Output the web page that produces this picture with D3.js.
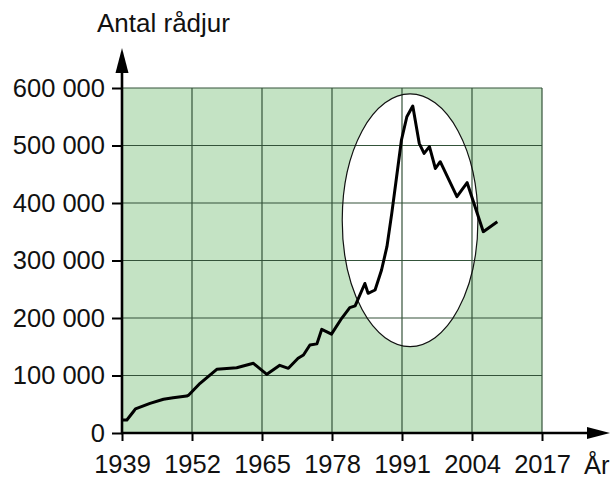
<!DOCTYPE html>
<html>
<head>
<meta charset="utf-8">
<script src="https://cdn.jsdelivr.net/npm/d3@7"></script>
<style>
  html, body { margin: 0; padding: 0; background: #fff; }
  svg text { font-family: "Liberation Sans", Arial, sans-serif; fill: #111; }
</style>
</head>
<body>
<svg id="chart" width="616" height="479"></svg>
<script>
// ---- data ----
const years = [1939.0, 1939.9, 1941.1, 1941.5, 1944.2, 1946.7, 1948.5, 1951.0, 1951.4, 1953.5,
  1956.6, 1960.3, 1963.4, 1965.9, 1968.3, 1969.9, 1971.7, 1972.7, 1973.9, 1975.2,
  1976.1, 1977.9, 1979.8, 1981.3, 1982.3, 1984.1, 1984.7, 1986.0, 1987.2, 1988.2,
  1989.1, 1990.0, 1990.9, 1991.9, 1993.0, 1994.2, 1995.1, 1996.1, 1997.2, 1998.1,
  2001.2, 2003.1, 2006.1, 2008.7];
const deer = [22600, 22600, 37000, 42000, 51600, 58600, 61400, 64300, 66000, 86400,
  110700, 113600, 121200, 102000, 117700, 112500, 129900, 135600, 153000, 155000,
  180300, 172000, 199500, 218000, 221000, 260000, 243000, 248700, 283500, 324000,
  382000, 445700, 509600, 550000, 568700, 503800, 486400, 498000, 460000, 471800,
  411000, 435300, 350100, 367500];
const xTicks = [1939, 1952, 1965, 1978, 1991, 2004, 2017];
const yTicks = [0, 100000, 200000, 300000, 400000, 500000, 600000];
const yTitle = "Antal rådjur";
const xTitle = "År";
// highlighted period (ellipse), in data units
const ellipseCenter = [1992.5, 370000];
const ellipseRadius = [12.6, 219700];

// ---- layout ----
const svg = d3.select("#chart");
const pLeft = 122, pRight = 542, pTop = 88, pBottom = 433;
const x = d3.scaleLinear().domain([1939, 2017]).range([pLeft, pRight]);
const y = d3.scaleLinear().domain([0, 600000]).range([pBottom, pTop]);
const fs = 25.5;

// background
svg.append("rect").attr("x", pLeft).attr("y", pTop)
  .attr("width", pRight - pLeft).attr("height", pBottom - pTop)
  .attr("fill", "#c4e3c4");

// ellipse fill
const ecx = x(ellipseCenter[0]), ecy = y(ellipseCenter[1]);
const erx = x(ellipseCenter[0] + ellipseRadius[0]) - ecx;
const ery = ecy - y(ellipseCenter[1] + ellipseRadius[1]);
svg.append("ellipse").attr("cx", ecx).attr("cy", ecy).attr("rx", erx).attr("ry", ery)
  .attr("fill", "#fff");

// grid
const grid = svg.append("g").attr("stroke", "#34533a").attr("stroke-width", 1.2);
grid.selectAll("line.h").data(yTicks.slice(1)).join("line").attr("class", "h")
  .attr("x1", pLeft).attr("x2", pRight).attr("y1", d => y(d)).attr("y2", d => y(d));
grid.selectAll("line.v").data(xTicks.slice(1)).join("line").attr("class", "v")
  .attr("y1", pTop).attr("y2", pBottom).attr("x1", d => x(d)).attr("x2", d => x(d));

// ellipse outline
svg.append("ellipse").attr("cx", ecx).attr("cy", ecy).attr("rx", erx).attr("ry", ery)
  .attr("fill", "none").attr("stroke", "#111").attr("stroke-width", 1.2);

// data line
const pts = years.map((yr, i) => [yr, deer[i]]);
svg.append("path").datum(pts)
  .attr("d", d3.line().x(d => x(d[0])).y(d => y(d[1])))
  .attr("fill", "none").attr("stroke", "#000").attr("stroke-width", 3)
  .attr("stroke-linejoin", "round");

// axes
const fmt = d => d3.format(",")(d).replace(/,/g, " ");
const yAxis = svg.append("g").attr("transform", `translate(${pLeft},0)`)
  .call(d3.axisLeft(y).tickValues(yTicks).tickSize(10).tickPadding(7).tickFormat(fmt));
const xAxis = svg.append("g").attr("transform", `translate(0,${pBottom})`)
  .call(d3.axisBottom(x).tickValues(xTicks).tickSize(8).tickPadding(14).tickFormat(d3.format("d")));
[yAxis, xAxis].forEach(a => {
  a.select(".domain").remove();
  a.selectAll(".tick line").attr("stroke", "#000").attr("stroke-width", 2);
  a.selectAll(".tick text").style("font-size", fs + "px").attr("fill", "#111");
});

// axis lines with arrows
svg.append("line").attr("x1", pLeft).attr("x2", pLeft).attr("y1", pBottom + 1).attr("y2", 70)
  .attr("stroke", "#000").attr("stroke-width", 2.6);
svg.append("path").attr("d", `M${pLeft},48 L${pLeft - 6.5},73 L${pLeft + 6.5},73 Z`).attr("fill", "#000");
svg.append("line").attr("x1", pLeft - 1).attr("x2", 590).attr("y1", pBottom).attr("y2", pBottom)
  .attr("stroke", "#000").attr("stroke-width", 2.6);
svg.append("path").attr("d", `M610,${pBottom} L587,${pBottom - 6} L587,${pBottom + 6} Z`).attr("fill", "#000");

// titles
svg.append("text").attr("x", 97).attr("y", 32).style("font-size", (fs + 0.5) + "px").text(yTitle);
svg.append("text").attr("x", 584).attr("y", 474).style("font-size", fs + "px").text(xTitle);
</script>
</body>
</html>
